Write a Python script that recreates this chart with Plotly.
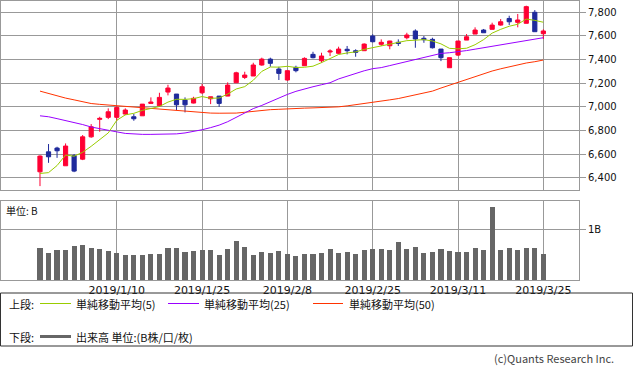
import plotly.graph_objects as go

# ---------------- data ----------------
day_index = list(range(60))
tick_pos = [9, 19, 29, 39, 49, 59]
tick_labels = ["2019/1/10", "2019/1/25", "2019/2/8", "2019/2/25", "2019/3/11", "2019/3/25"]

open_ = [6450, 6619, 6651, 6501, 6587, 6557, 6746, 6894, 6911, 6911,
         6939, 6916, 6924, 7029, 7009, 7125, 7108, 7057, 7032, 7119,
         7068, 7091, 7091, 7204, 7249, 7261, 7354, 7404, 7320, 7227,
         7334, 7348, 7444, 7390, 7464, 7453, 7487, 7475, 7475, 7599,
         7529, 7517, 7546, 7585, 7642, 7580, 7571, 7489, 7331, 7438,
         7565, 7616, 7650, 7656, 7692, 7748, 7715, 7707, 7800, 7619]
high = [6590, 6685, 6662, 6690, 6600, 6761, 6854, 6916, 6987, 7006,
        6987, 6939, 7023, 7080, 7119, 7187, 7108, 7080, 7085, 7193,
        7085, 7091, 7207, 7297, 7297, 7373, 7416, 7416, 7339, 7306,
        7348, 7419, 7466, 7458, 7487, 7509, 7515, 7487, 7537, 7614,
        7571, 7559, 7571, 7627, 7656, 7599, 7585, 7489, 7416, 7557,
        7616, 7673, 7659, 7712, 7743, 7771, 7786, 7856, 7819, 7656]
low = [6329, 6526, 6568, 6501, 6447, 6549, 6738, 6789, 6896, 6882,
       6930, 6882, 6924, 7029, 7000, 7097, 6972, 6953, 7029, 7108,
       7023, 7000, 7091, 7204, 7235, 7261, 7348, 7339, 7227, 7221,
       7292, 7345, 7410, 7373, 7430, 7447, 7444, 7424, 7475, 7546,
       7515, 7487, 7515, 7571, 7500, 7542, 7494, 7387, 7331, 7430,
       7565, 7616, 7627, 7656, 7687, 7692, 7673, 7707, 7636, 7574]
close = [6583, 6577, 6628, 6668, 6456, 6746, 6831, 6902, 6958, 6995,
         6973, 6899, 7023, 7040, 7080, 7159, 7017, 7017, 7072, 7170,
         7085, 7029, 7184, 7288, 7269, 7354, 7404, 7368, 7283, 7306,
         7306, 7410, 7416, 7430, 7472, 7489, 7475, 7461, 7531, 7551,
         7546, 7557, 7537, 7608, 7574, 7568, 7500, 7416, 7416, 7557,
         7593, 7650, 7627, 7692, 7720, 7720, 7735, 7848, 7636, 7642]

ma5 = [6436, 6443, 6503, 6592, 6582, 6615, 6666, 6721, 6779, 6886,
       6932, 6945, 6970, 6986, 7003, 7040, 7064, 7063, 7069, 7087,
       7072, 7075, 7108, 7151, 7171, 7225, 7300, 7337, 7336, 7343,
       7333, 7335, 7344, 7374, 7407, 7443, 7456, 7465, 7486, 7501,
       7513, 7529, 7544, 7560, 7564, 7569, 7557, 7533, 7495, 7491,
       7496, 7526, 7569, 7624, 7656, 7682, 7699, 7743, 7732, 7716]
ma25 = [6924, 6916, 6900, 6884, 6871, 6850, 6829, 6814, 6797, 6788,
        6775, 6769, 6767, 6767, 6767, 6767, 6771, 6779, 6790, 6806,
        6824, 6845, 6874, 6913, 6951, 6985, 7012, 7045, 7076, 7105,
        7131, 7152, 7170, 7187, 7204, 7236, 7260, 7284, 7305, 7323,
        7332, 7349, 7366, 7383, 7400, 7419, 7440, 7452, 7458, 7464,
        7476, 7488, 7500, 7512, 7530, 7542, 7549, 7560, 7574, 7585]
ma50 = [7133, 7112, 7091, 7074, 7059, 7044, 7028, 7021, 7015, 7009,
        7004, 6998, 6994, 6988, 6983, 6977, 6970, 6964, 6959, 6952,
        6947, 6946, 6945, 6947, 6954, 6962, 6968, 6976, 6979, 6984,
        6987, 6989, 6991, 6992, 6995, 7000, 7008, 7017, 7026, 7038,
        7049, 7059, 7070, 7085, 7100, 7112, 7133, 7159, 7183, 7208,
        7232, 7257, 7280, 7303, 7322, 7339, 7358, 7371, 7382, 7396]

# volume in billions (B)
volume = [0.632, 0.533, 0.592, 0.592, 0.671, 0.691, 0.632, 0.612, 0.572, 0.533,
          0.493, 0.493, 0.493, 0.513, 0.513, 0.632, 0.632, 0.553, 0.572, 0.592,
          0.592, 0.493, 0.612, 0.770, 0.651, 0.493, 0.553, 0.533, 0.572, 0.513,
          0.474, 0.513, 0.513, 0.533, 0.612, 0.533, 0.553, 0.513, 0.592, 0.612,
          0.612, 0.592, 0.750, 0.612, 0.651, 0.533, 0.553, 0.612, 0.572, 0.553,
          0.553, 0.632, 0.592, 1.441, 0.592, 0.632, 0.592, 0.632, 0.632, 0.513]

price_ticks = [6400, 6600, 6800, 7000, 7200, 7400, 7600, 7800]

# ---------------- styles ----------------
W, H = 633, 370
RED = "#ff0033"
BLUE = "#1f2a9c"
C_MA5 = "#99cc00"
C_MA25 = "#9900ff"
C_MA50 = "#ff3300"
GRID = "#999999"
FONT_NUM = "DejaVu Sans"
FONT_JP = "Noto Sans CJK JP"


def fx(p):
    return p / W


def fy(p):
    return 1 - p / H


XR = [-4.57, 63.18]

fig = go.Figure()
fig.add_trace(go.Candlestick(
    x=day_index, open=open_, high=high, low=low, close=close,
    increasing=dict(line=dict(color=RED, width=1), fillcolor=RED),
    decreasing=dict(line=dict(color=BLUE, width=1), fillcolor=BLUE),
    whiskerwidth=0, showlegend=False, xaxis="x", yaxis="y"))
for vals, col in [(ma50, C_MA50), (ma25, C_MA25), (ma5, C_MA5)]:
    fig.add_trace(go.Scatter(x=day_index, y=vals, mode="lines",
                             line=dict(color=col, width=1),
                             showlegend=False, xaxis="x", yaxis="y"))
fig.add_trace(go.Bar(x=day_index, y=volume, width=0.6,
                     marker=dict(color="#666666", line=dict(width=0)),
                     showlegend=False, xaxis="x2", yaxis="y2"))

axis_common = dict(showgrid=True, gridcolor=GRID, gridwidth=1, showline=True,
                   linecolor=GRID, linewidth=1, mirror=True, zeroline=False,
                   automargin=False)

fig.update_layout(
    width=W, height=H, autosize=False,
    margin=dict(l=0, r=0, t=0, b=0),
    paper_bgcolor="white", plot_bgcolor="white",
    bargap=0,
    xaxis=dict(domain=[fx(1), fx(579)], range=XR, anchor="y",
               tickvals=tick_pos, showticklabels=False, ticks="",
               rangeslider=dict(visible=False), **axis_common),
    yaxis=dict(domain=[fy(190), fy(0.5)], range=[6296, 7900], anchor="x",
               side="right", tickvals=price_ticks, tickformat=",",
               ticks="outside", ticklen=6, tickcolor=GRID,
               tickfont=dict(family=FONT_NUM, size=10, color="#111111"),
               **axis_common),
    xaxis2=dict(domain=[fx(1), fx(579)], range=XR, anchor="y2",
                tickvals=tick_pos, ticktext=tick_labels, ticks="",
                tickfont=dict(family=FONT_NUM, size=11, color="#111111"),
                **axis_common),
    yaxis2=dict(domain=[fy(280), fy(201)], range=[0, 1.56], anchor="x2",
                side="right", tickvals=[1], ticktext=["1B"],
                ticks="outside", ticklen=6, tickcolor=GRID,
                tickfont=dict(family=FONT_NUM, size=10, color="#111111"),
                **axis_common),
)

shapes = [
    dict(type="rect", xref="paper", yref="paper",
         x0=fx(0.5), x1=fx(632.5), y0=fy(346), y1=fy(293),
         line=dict(color="#333333", width=1)),
    dict(type="line", xref="paper", yref="paper", x0=fx(40), x1=fx(71),
         y0=fy(303.5), y1=fy(303.5), line=dict(color=C_MA5, width=1)),
    dict(type="line", xref="paper", yref="paper", x0=fx(168), x1=fx(199),
         y0=fy(303.5), y1=fy(303.5), line=dict(color=C_MA25, width=1)),
    dict(type="line", xref="paper", yref="paper", x0=fx(313), x1=fx(343),
         y0=fy(303.5), y1=fy(303.5), line=dict(color=C_MA50, width=1)),
    dict(type="line", xref="paper", yref="paper", x0=fx(40), x1=fx(71),
         y0=fy(336.5), y1=fy(336.5), line=dict(color="#666666", width=3)),
]

def ann(text, x, y, size=11, anchor="left", color="#111111", family=FONT_JP):
    return dict(text=text, x=fx(x), y=fy(y), xref="paper", yref="paper",
                showarrow=False, xanchor=anchor, yanchor="middle",
                font=dict(family=family, size=size, color=color))

annotations = [
    ann("単位: B", 4, 210, size=10),
    ann("上段:", 7, 303.5),
    ann("単純移動平均(5)", 74, 303.5),
    ann("単純移動平均(25)", 202, 303.5),
    ann("単純移動平均(50)", 347, 303.5),
    ann("下段:", 7, 336.5),
    ann("出来高 単位:(B株/口/枚)", 74, 336.5),
    ann("(c)Quants Research Inc.", 616, 358, size=11, anchor="right", color="#444444"),
]
fig.update_layout(shapes=shapes, annotations=annotations)

fig.write_html(
    "out.html",
    config={"displayModeBar": False, "staticPlot": True},
    post_script="document.body.style.margin='0';document.body.style.overflow='hidden';",
)
